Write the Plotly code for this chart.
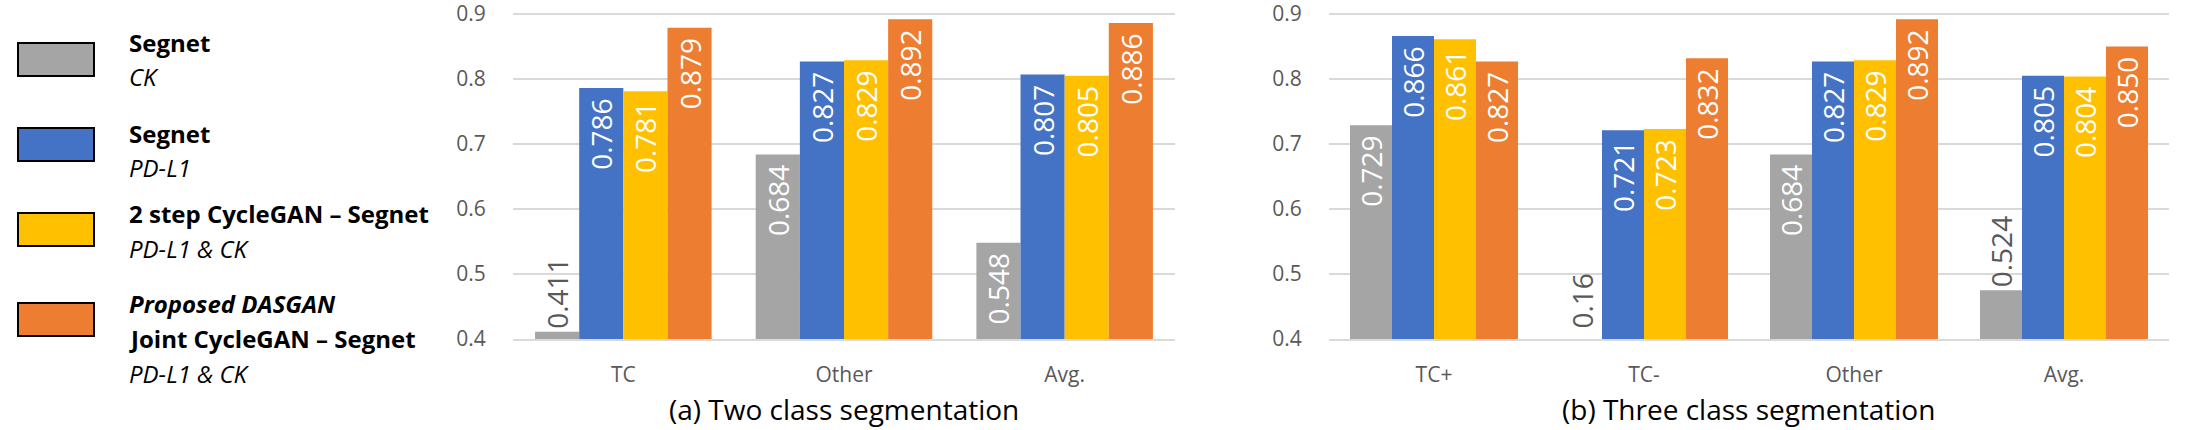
import plotly.graph_objects as go

# ---------------- data ----------------
series_names = ["Segnet (CK)", "Segnet (PD-L1)", "2 step CycleGAN – Segnet (PD-L1 & CK)",
                "Proposed DASGAN Joint CycleGAN – Segnet (PD-L1 & CK)"]
series_colors = ["#A5A5A5", "#4472C4", "#FFC000", "#ED7D31"]

cats_a = ["TC", "Other", "Avg."]
vals_a = [
    [0.411, 0.684, 0.548],
    [0.786, 0.827, 0.807],
    [0.781, 0.829, 0.805],
    [0.879, 0.892, 0.886],
]
labels_a = [
    ["0.411", "0.684", "0.548"],
    ["0.786", "0.827", "0.807"],
    ["0.781", "0.829", "0.805"],
    ["0.879", "0.892", "0.886"],
]

cats_b = ["TC+", "TC-", "Other", "Avg."]
vals_b = [
    [0.729, 0.16, 0.684, 0.475],
    [0.866, 0.721, 0.827, 0.805],
    [0.861, 0.723, 0.829, 0.804],
    [0.827, 0.832, 0.892, 0.850],
]
labels_b = [
    ["0.729", "0.16", "0.684", "0.524"],
    ["0.866", "0.721", "0.827", "0.805"],
    ["0.861", "0.723", "0.829", "0.804"],
    ["0.827", "0.832", "0.892", "0.850"],
]

y_ticks = [0.4, 0.5, 0.6, 0.7, 0.8, 0.9]
subtitle_a = "(a) Two class segmentation"
subtitle_b = "(b) Three class segmentation"

legend_lines = [
    [("<b>Segnet</b>", 43), ("<i>CK</i>", 77)],
    [("<b>Segnet</b>", 133), ("<i>PD-L1</i>", 167)],
    [("<b>2 step CycleGAN – Segnet</b>", 213), ("<i>PD-L1 &amp; CK</i>", 248)],
    [("<b><i>Proposed DASGAN</i></b>", 303), ("<b>Joint CycleGAN – Segnet</b>", 338),
     ("<i>PD-L1 &amp; CK</i>", 373)],
]
legend_box_y = [(43, 76), (128, 161), (213, 246), (303, 336)]

# ---------------- layout constants ----------------
W, H = 2191, 430
FONT = "Open Sans"
YMIN, YMAX = 0.4, 0.902
BARGAP = 0.2
NSER = 4
LABEL_SIZE = 28


def px_x(p):
    return p / W


def px_y(p):
    return 1 - p / H


dom_a = [px_x(513), px_x(1175)]
dom_b = [px_x(1329), px_x(2169)]
dom_y = [px_y(339), px_y(12.7)]

fig = go.Figure()
annotations = []


def add_panel(cats, vals, labels, xref, yref):
    xs = list(range(len(cats)))
    bw = (1 - BARGAP) / NSER
    for s in range(NSER):
        texts, pos = [], []
        for i, v in enumerate(vals[s]):
            lab = labels[s][i]
            if v < YMIN:
                texts.append("")
                pos.append("none")
                annotations.append(dict(
                    x=xs[i] - (1 - BARGAP) / 2 + bw * (s + 0.5), y=YMIN,
                    xref=xref, yref=yref, text=lab, textangle=-90,
                    showarrow=False, yanchor="bottom", xanchor="center", yshift=8,
                    font=dict(family=FONT, size=LABEL_SIZE, color="#595959")))
            elif v - YMIN > 0.12:
                texts.append(lab + "\u00a0")
                pos.append("inside")
            else:
                texts.append(lab)
                pos.append("outside")
        fig.add_trace(go.Bar(
            x=xs, y=vals[s], name=series_names[s], marker_color=series_colors[s],
            marker_line_width=0, text=texts, textposition=pos, textangle=-90,
            insidetextanchor="end",
            insidetextfont=dict(family=FONT, size=LABEL_SIZE, color="white"),
            outsidetextfont=dict(family=FONT, size=LABEL_SIZE, color="#595959"),
            xaxis=xref, yaxis=yref, showlegend=False, cliponaxis=True,
            hoverinfo="skip"))


add_panel(cats_a, vals_a, labels_a, "x", "y")
add_panel(cats_b, vals_b, labels_b, "x2", "y2")

for dom, txt in [(dom_a, subtitle_a), (dom_b, subtitle_b)]:
    annotations.append(dict(
        x=(dom[0] + dom[1]) / 2, y=px_y(409), xref="paper", yref="paper",
        text=txt, showarrow=False, xanchor="center", yanchor="middle",
        font=dict(family=FONT, size=28, color="black")))

shapes = []
for s in range(NSER):
    y0, y1 = legend_box_y[s]
    shapes.append(dict(type="rect", xref="paper", yref="paper",
                       x0=px_x(18), x1=px_x(94), y0=px_y(y1), y1=px_y(y0),
                       fillcolor=series_colors[s], line=dict(color="black", width=2)))
    for txt, yc in legend_lines[s]:
        annotations.append(dict(
            x=px_x(127), y=px_y(yc), xref="paper", yref="paper", text=txt,
            showarrow=False, xanchor="left", yanchor="middle",
            font=dict(family=FONT, size=24, color="black")))

axis_common_x = dict(
    showgrid=False, zeroline=False, showline=True, linecolor="#D9D9D9", linewidth=2,
    ticks="outside", ticklen=16, tickcolor="rgba(0,0,0,0)", automargin=False,
    ticklabeloverflow="allow",
    tickfont=dict(family=FONT, size=21, color="#595959"))
axis_common_y = dict(
    range=[YMIN, YMAX], tickvals=y_ticks, ticktext=[f"{t:.1f}" for t in y_ticks],
    showgrid=True, gridcolor="#D9D9D9", gridwidth=1.5, zeroline=False, showline=False,
    ticks="outside", ticklen=22, tickcolor="rgba(0,0,0,0)", automargin=False,
    ticklabeloverflow="allow",
    tickfont=dict(family=FONT, size=21, color="#595959"))

fig.update_layout(
    width=W, height=H, margin=dict(l=0, r=0, t=0, b=0, pad=0), autosize=False,
    paper_bgcolor="white", plot_bgcolor="white",
    barmode="group", bargap=BARGAP, bargroupgap=0,
    uniformtext=dict(minsize=LABEL_SIZE, mode="show"),
    xaxis=dict(domain=dom_a, range=[-0.5, len(cats_a) - 0.5],
               tickvals=list(range(len(cats_a))), ticktext=cats_a, anchor="y", **axis_common_x),
    yaxis=dict(domain=dom_y, anchor="x", **axis_common_y),
    xaxis2=dict(domain=dom_b, range=[-0.5, len(cats_b) - 0.5],
                tickvals=list(range(len(cats_b))), ticktext=cats_b, anchor="y2", **axis_common_x),
    yaxis2=dict(domain=dom_y, anchor="x2", **axis_common_y),
    annotations=annotations, shapes=shapes,
)

fig.write_html("out.html", config={"displayModeBar": False},
               post_script="document.body.style.margin='0';document.body.style.overflow='hidden';")
